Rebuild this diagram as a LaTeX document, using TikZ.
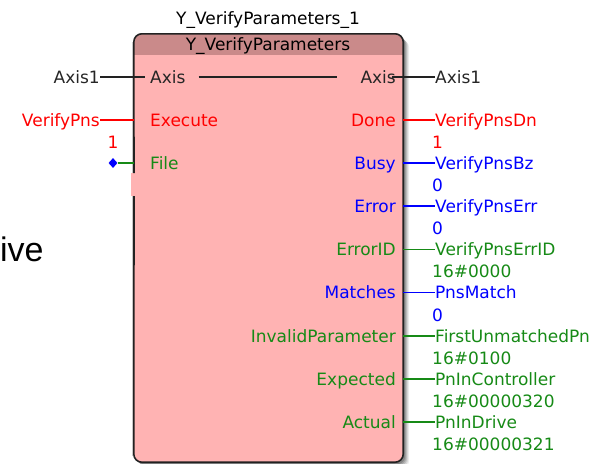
\documentclass[tikz,border=0pt]{standalone}
\usepackage{fontspec}
\setmainfont{DejaVu Sans}
\newfontfamily\arialfont{Liberation Sans}
\usetikzlibrary{shapes.geometric}
\definecolor{pinkbody}{RGB}{255,179,179}
\definecolor{pinkhead}{RGB}{202,138,138}
\definecolor{sred}{RGB}{255,0,0}
\definecolor{sblue}{RGB}{0,0,255}
\definecolor{sgreen}{RGB}{22,138,22}
\definecolor{edge}{RGB}{34,34,34}
\begin{document}
\begin{tikzpicture}[x=1pt,y=-1pt,
  lbl/.style={inner sep=0pt, text height=12.4pt, text depth=0pt, font=\fontsize{17}{20}\selectfont},
  wire/.style={line width=1.2pt}]
\useasboundingbox (0,0) rectangle (594,463);

% function block outline (shape only)
\node[inner sep=0pt, minimum width=269pt, minimum height=428pt] (fb) at (268.5,248) {};

% drop shadow to the right and below
\foreach \k/\o in {6/0.07,5/0.09,4/0.12,3/0.15,2/0.18}
  \fill[black, opacity=\o, rounded corners=8pt]
    ([shift={(\k,\k)}]fb.north west) rectangle ([shift={(\k,\k)}]fb.south east);

% body and header band
\fill[pinkbody, rounded corners=8pt] (fb.north west) rectangle (fb.south east);
\begin{scope}
  \clip[rounded corners=8pt] (fb.north west) rectangle (fb.south east);
  \fill[pinkhead] (fb.north west) rectangle ([shift={(0,21)}]fb.north east);
\end{scope}
\fill[pinkbody] (131,173) rectangle (136,196);

% frame, open on the left beside the File pin
\draw[black!22, line width=1pt] (132,42) -- (132,173) (132,196) -- (132,456);
\draw[edge, line width=1.6pt, rounded corners=8pt]
  (134,173) -- (fb.north west) -- (fb.north east) -- (fb.south east) -- (fb.south west) -- (134,196);

% instance name and type
\node[lbl] (title) at (268,18) {Y\_VerifyParameters\_1};
\node[lbl] (ftype) at (268,44) {Y\_VerifyParameters};

% text cut at the left border
\node[font=\arialfont\fontsize{34}{40}\selectfont, anchor=base west, inner sep=0pt] (drivetxt) at (0,261) {ive};

% inputs
\node[lbl, anchor=east, black!85] (vAxisIn) at (100,77) {Axis1};
\node[lbl, anchor=east, sred] (vExec) at (100,120) {VerifyPns};
\node[lbl, sred] (cFile) at (113,142.5) {1};
\node[diamond, fill=sblue, inner sep=0pt, minimum width=9pt, minimum height=10pt] (dFile) at (113,163) {};

\node[lbl, anchor=west, black!85] (pAxisIn) at (150,77) {Axis};
\node[lbl, anchor=west, sred] (pExec) at (150,120) {Execute};
\node[lbl, anchor=west, sgreen] (pFile) at (150,163) {File};

% output pins
\node[lbl, anchor=east, black!85] (pAxisOut) at (396,77) {Axis};
\node[lbl, anchor=east, sred] (pDone) at (396,120) {Done};
\node[lbl, anchor=east, sblue] (pBusy) at (396,163) {Busy};
\node[lbl, anchor=east, sblue] (pError) at (396,206) {Error};
\node[lbl, anchor=east, sgreen] (pErrID) at (396,249.5) {ErrorID};
\node[lbl, anchor=east, sblue] (pMatch) at (396,292.5) {Matches};
\node[lbl, anchor=east, sgreen] (pInv) at (396,336) {InvalidParameter};
\node[lbl, anchor=east, sgreen] (pExp) at (396,379) {Expected};
\node[lbl, anchor=east, sgreen] (pAct) at (396,422) {Actual};

% output variables
\node[lbl, anchor=west, black!85] (oAxis) at (435,77) {Axis1};
\node[lbl, anchor=west, sred] (oDone) at (435,120) {VerifyPnsDn};
\node[lbl, anchor=west, sblue] (oBusy) at (435,163) {VerifyPnsBz};
\node[lbl, anchor=west, sblue] (oError) at (435,206) {VerifyPnsErr};
\node[lbl, anchor=west, sgreen] (oErrID) at (435,249.5) {VerifyPnsErrID};
\node[lbl, anchor=west, sblue] (oMatch) at (435,292.5) {PnsMatch};
\node[lbl, anchor=west, sgreen] (oInv) at (435,336) {FirstUnmatchedPn};
\node[lbl, anchor=west, sgreen] (oExp) at (435,379) {PnInController};
\node[lbl, anchor=west, sgreen] (oAct) at (435,422) {PnInDrive};

% current values
\node[lbl, anchor=west, sred] (kDone) at (432,142.5) {1};
\node[lbl, anchor=west, sblue] (kBusy) at (432,185.5) {0};
\node[lbl, anchor=west, sblue] (kError) at (432,228.5) {0};
\node[lbl, anchor=west, sgreen] (kErrID) at (432,271.5) {16\#0000};
\node[lbl, anchor=west, sblue] (kMatch) at (432,315) {0};
\node[lbl, anchor=west, sgreen] (kInv) at (432,358) {16\#0100};
\node[lbl, anchor=west, sgreen] (kExp) at (432,401) {16\#00000320};
\node[lbl, anchor=west, sgreen] (kAct) at (432,444) {16\#00000321};

% input wires
\draw[wire, edge] (vAxisIn.east) -- ([xshift=-5pt]pAxisIn.west);
\draw[wire, edge] ([xshift=13pt]pAxisIn.east) -- ([xshift=-23pt]pAxisOut.west);
\draw[wire, edge] ([xshift=-4pt]pAxisOut.east) -- (oAxis.west);
\draw[wire, sred] (vExec.east) -- (vExec.east -| fb.west);
\draw[wire, sgreen] (dFile.east) -- (dFile.east -| fb.west);

% output wires
\draw[wire, sred] (oDone.west -| fb.east) -- (oDone.west);
\draw[wire, sblue] (oBusy.west -| fb.east) -- (oBusy.west);
\draw[wire, sblue] (oError.west -| fb.east) -- (oError.west);
\draw[wire, sgreen] (oErrID.west -| fb.east) -- (oErrID.west);
\draw[wire, sblue] (oMatch.west -| fb.east) -- (oMatch.west);
\draw[wire, sgreen] (oInv.west -| fb.east) -- (oInv.west);
\draw[wire, sgreen] (oExp.west -| fb.east) -- (oExp.west);
\draw[wire, sgreen] (oAct.west -| fb.east) -- (oAct.west);
\end{tikzpicture}
\end{document}
